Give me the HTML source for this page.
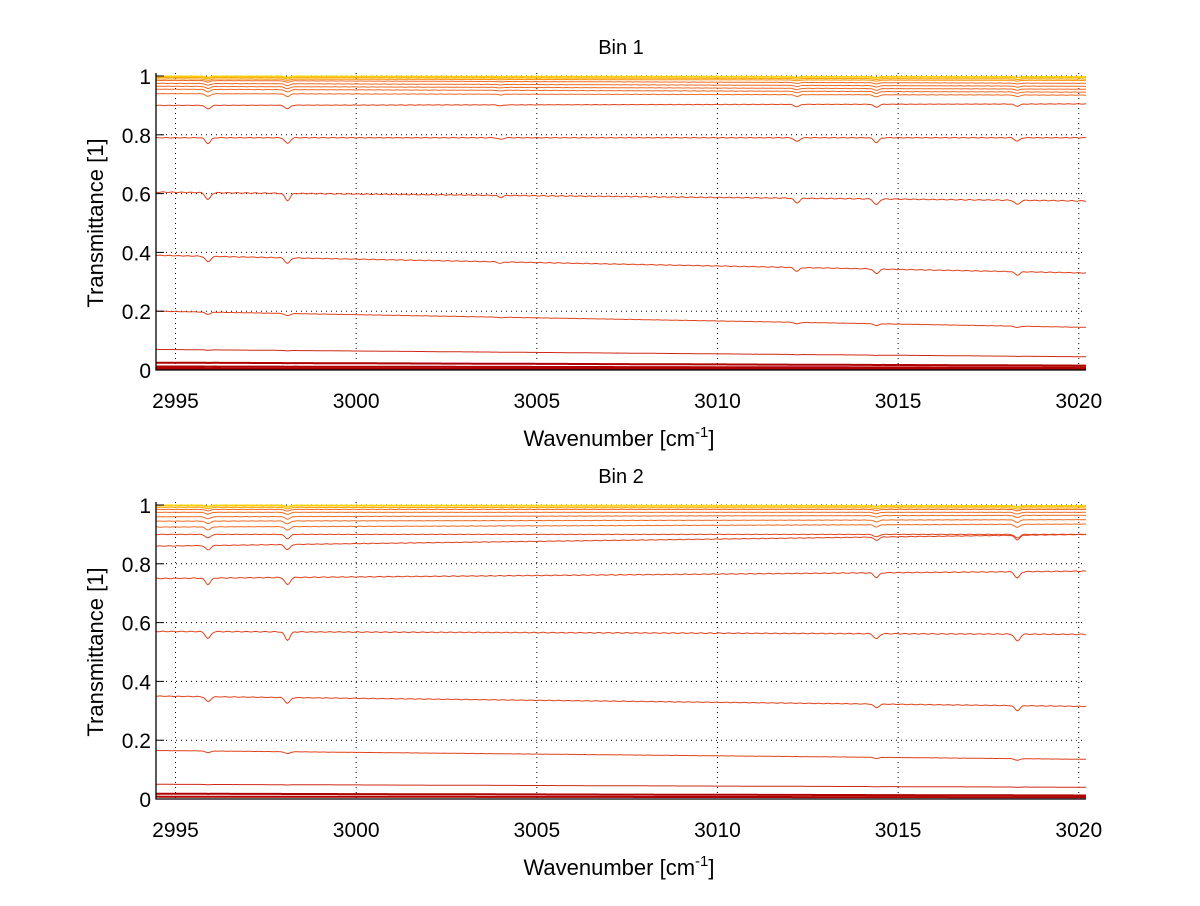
<!DOCTYPE html>
<html><head><meta charset="utf-8"><style>
body{margin:0;background:#fff;}
svg text{font-family:"Liberation Sans",sans-serif;fill:#000;}
</style></head><body>
<svg id="chart" width="1200" height="901" xmlns="http://www.w3.org/2000/svg"></svg>
<script>
// ---- data ----
const xTicks = [2995, 3000, 3005, 3010, 3015, 3020];
const yTicks = [0, 0.2, 0.4, 0.6, 0.8, 1];
const yTickLabels = ["0", "0.2", "0.4", "0.6", "0.8", "1"];
const panelTitles = ["Bin 1", "Bin 2"];
const bin1Start = [1.0, 0.998, 0.995, 0.99, 0.985, 0.975, 0.965, 0.955, 0.94, 0.90, 0.79, 0.605, 0.39, 0.20, 0.07, 0.025, 0.012, 0.005];
const bin1End   = [0.998, 0.995, 0.99, 0.985, 0.975, 0.965, 0.955, 0.945, 0.935, 0.905, 0.79, 0.575, 0.33, 0.145, 0.045, 0.015, 0.008, 0.004];
const bin1DipPos = [2995.9, 2998.1, 3004.0, 3012.2, 3014.4, 3018.3];
const bin1DipDepth = [0.03, 0.03, 0.008, 0.02, 0.025, 0.018];
const bin2Start = [1.0, 0.997, 0.992, 0.985, 0.975, 0.96, 0.945, 0.925, 0.90, 0.86, 0.75, 0.57, 0.35, 0.165, 0.05, 0.018, 0.008];
const bin2End   = [0.998, 0.995, 0.99, 0.985, 0.975, 0.965, 0.95, 0.935, 0.90, 0.90, 0.775, 0.56, 0.315, 0.135, 0.04, 0.012, 0.006];
const bin2DipPos = [2995.9, 2998.1, 3014.4, 3018.3];
const bin2DipDepth = [0.03, 0.035, 0.022, 0.03];
const xMin = 2994.46, xMax = 3020.2;

const svg = document.getElementById('chart');
const NS = 'http://www.w3.org/2000/svg';
function mk(tag, attrs, parent){const e=document.createElementNS(NS,tag);for(const k in attrs)e.setAttribute(k,attrs[k]);(parent||svg).appendChild(e);return e;}

function colorFor(i, n, start){
  if(start > 0.985) { const c=['#f5d800','#ffc000','#ffa500','#ff9000','#ff8000']; return c[i % c.length]; }
  if(start > 0.9) return '#f06a20';
  if(start > 0.1) return '#e0401a';
  if(start > 0.03) return '#d02818';
  return '#b00000';
}

function panel(pi, top, starts, ends, dipPos, dipDepth){
  const L=156, R=1086, T=top, B=top+294;
  const xs = v => L + (v - xMin) / (xMax - xMin) * (R - L);
  const ys = v => B - v * (B - T);
  const g = mk('g', {});
  
  
  xTicks.forEach(t => { const l=mk('line',{x1:xs(t),x2:xs(t),y1:T-3,y2:B,stroke:'#000','stroke-dasharray':'1,4','stroke-width':1},g);
      });
  yTicks.forEach(t => { const l=mk('line',{x1:L,x2:R,y1:ys(t),y2:ys(t),stroke:'#000','stroke-dasharray':'1,4','stroke-width':1},g);
      });
  for(let i=starts.length-1;i>=0;i--){
    const s=starts[i], e=ends[i];
    const amp = 0.8 * Math.min(1, 4*s*(1-s)+0.15) * (s>0.5?1:s/0.5);
    let d='';
    for(let k=0;k<=700;k++){
      const w = xMin + (xMax-xMin)*k/700;
      let v = s + (e-s)*(w-xMin)/(xMax-xMin);
      dipPos.forEach((p,j)=>{ v -= dipDepth[j]*amp*Math.exp(-Math.pow((w-p)/0.1,2)); });
      v += 0.0015*Math.sin(k*0.9+i*2)*amp;
      if(v>1) v=1;
      d += (k?'L':'M') + xs(w).toFixed(1) + ',' + ys(v).toFixed(1);
    }
    const p=mk('path',{d:d,fill:'none',stroke:colorFor(i,starts.length,s),'stroke-width':s<0.03?2:1},g);
    
    
  }
  const ax=mk('path',{d:`M${L},${T-3}V${B}H${R}`,fill:'none',stroke:'#000','stroke-width':1.3},g);
   
  xTicks.forEach(t => {
    const tx=mk('text',{x:xs(t),y:B+38,'text-anchor':'middle','font-size':21},g); tx.textContent=t;
     
  });
  yTicks.forEach((t,j) => {
    mk('line',{x1:L,x2:L+8,y1:ys(t),y2:ys(t),stroke:'#000'},g);
    const tx=mk('text',{x:L-5,y:ys(t)+8,'text-anchor':'end','font-size':21},g); tx.textContent=yTickLabels[j];
     
  });
  const ti=mk('text',{x:621,y:T-22,'text-anchor':'middle','font-size':20},g); ti.textContent=panelTitles[pi];
   
  const xl=mk('text',{x:619,y:B+76,'text-anchor':'middle','font-size':22},g);
  xl.innerHTML='Wavenumber [cm<tspan dy="-9" font-size="15">-1</tspan><tspan dy="9">]</tspan>';
   
  const yl=mk('text',{x:0,y:0,'text-anchor':'middle','font-size':22,transform:`translate(103,${(T+B)/2}) rotate(-90)`},g);
  yl.textContent='Transmittance [1]';
   
}
panel(0, 76, bin1Start, bin1End, bin1DipPos, bin1DipDepth);
panel(1, 505, bin2Start, bin2End, bin2DipPos, bin2DipDepth);
</script>
</body></html>
